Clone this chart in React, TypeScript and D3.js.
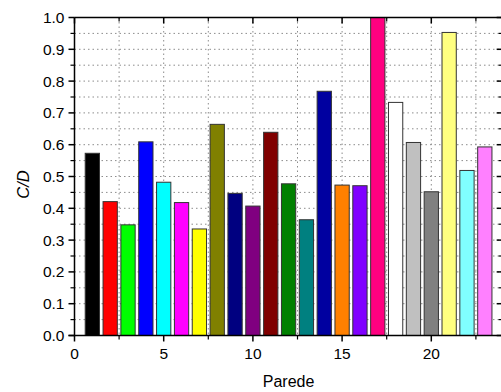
import React from "react";
import * as d3 from "d3";

const walls = [1, 2, 3, 4, 5, 6, 7, 8, 9, 10, 11, 12, 13, 14, 15, 16, 17, 18, 19, 20, 21, 22, 23];
const cdValues = [0.573, 0.421, 0.348, 0.609, 0.482, 0.418, 0.335, 0.664, 0.447, 0.407, 0.639, 0.477, 0.364, 0.768, 0.473, 0.471, 1.0, 0.733, 0.607, 0.452, 0.953, 0.519, 0.593];
const barColors = ["#000000", "#FF0000", "#00FF00", "#0000FF", "#00FFFF", "#FF00FF", "#FFFF00", "#808000", "#000080", "#800080", "#800000", "#008000", "#008080", "#0000A0", "#FF8000", "#8000FF", "#FF0080", "#FFFFFF", "#C0C0C0", "#808080", "#FFFF80", "#80FFFF", "#FF80FF"];
const xMajorTicks = [0, 5, 10, 15, 20];
const yMajorTicks = [0, 0.1, 0.2, 0.3, 0.4, 0.5, 0.6, 0.7, 0.8, 0.9, 1.0];

const W = 501;
const H = 392;
const FONT = "Arial, 'Liberation Sans', sans-serif";

export default function App() {
  const x = d3.scaleLinear().domain([0, 24]).range([74.5, 74.5 + 24 * 17.84]);
  const y = d3.scaleLinear().domain([0, 1]).range([335.5, 17.5]);
  const left = x(0);
  const right = x(24);
  const top = y(1);
  const bottom = y(0);
  const barW = x(0.8) - x(0);

  const xGrid = d3.range(1, 10).map((i) => i * 2.5);
  const yGrid = d3.range(1, 20).map((i) => i * 0.05);
  const xMinor = d3.range(0, 10).map((i) => i * 2.5 + 2.5).filter((v) => v % 5 !== 0);
  const yMinor = d3.range(0, 10).map((i) => i * 0.1 + 0.05);

  return (
    <svg width={W} height={H} style={{ position: "absolute", left: 0, top: 0, background: "#fff" }}>
      <rect x={0} y={0} width={W} height={H} fill="#fff" />
      <defs>
        <clipPath id="plot">
          <rect x={left} y={top} width={right - left} height={bottom - top} />
        </clipPath>
      </defs>
      {/* grid */}
      <g stroke="#8c8c8c" strokeWidth={1} strokeDasharray="1.5,3" fill="none">
        {xGrid.map((v) => (
          <line key={"gx" + v} x1={x(v)} x2={x(v)} y1={top} y2={bottom} />
        ))}
        {yGrid.map((v) => (
          <line key={"gy" + v} x1={left} x2={right} y1={y(v)} y2={y(v)} />
        ))}
      </g>
      {/* bars */}
      <g clipPath="url(#plot)">
        {walls.map((w, i) => (
          <rect
            key={w}
            x={x(w) - barW / 2}
            y={y(cdValues[i])}
            width={barW}
            height={y(0) - y(cdValues[i])}
            fill={barColors[i]}
            stroke="#333"
            strokeWidth={1}
          />
        ))}
      </g>
      {/* axes */}
      <g stroke="#000" fill="none">
        <line x1={left - 6} x2={right} y1={bottom} y2={bottom} strokeWidth={1.5} />
        <line x1={left} x2={right} y1={top} y2={top} strokeWidth={1.5} />
        <line x1={left} x2={left} y1={top} y2={bottom + 0.75} strokeWidth={1.5} />
        <line x1={right} x2={right} y1={top} y2={bottom} strokeWidth={1.5} />
        {xMajorTicks.map((v) => (
          <g key={"xt" + v}>
            <line x1={x(v)} x2={x(v)} y1={bottom} y2={bottom + 6} strokeWidth={1.5} />
            <line x1={x(v)} x2={x(v)} y1={top} y2={top + 6} strokeWidth={1.5} />
          </g>
        ))}
        {xMinor.map((v) => (
          <g key={"xm" + v}>
            <line x1={x(v)} x2={x(v)} y1={bottom} y2={bottom + 4} strokeWidth={1.2} />
            <line x1={x(v)} x2={x(v)} y1={top} y2={top + 4} strokeWidth={1.2} />
          </g>
        ))}
        {yMajorTicks.map((v) => (
          <g key={"yt" + v}>
            <line x1={left - 6} x2={left} y1={y(v)} y2={y(v)} strokeWidth={1.5} />
            <line x1={right - 6} x2={right} y1={y(v)} y2={y(v)} strokeWidth={1.5} />
          </g>
        ))}
        {yMinor.map((v) => (
          <g key={"ym" + v}>
            <line x1={left - 4} x2={left} y1={y(v)} y2={y(v)} strokeWidth={1.2} />
            <line x1={right - 4} x2={right} y1={y(v)} y2={y(v)} strokeWidth={1.2} />
          </g>
        ))}
      </g>
      {/* tick labels */}
      <g fontFamily={FONT} fontSize={15.5} fill="#000">
        {yMajorTicks.map((v) => (
          <text key={"yl" + v} x={left - 10} y={y(v)} textAnchor="end" dominantBaseline="central">
            {d3.format(".1f")(v)}
          </text>
        ))}
        {xMajorTicks.map((v) => (
          <text key={"xl" + v} x={x(v)} y={359} textAnchor="middle">
            {v}
          </text>
        ))}
      </g>
      <text x={(left + right) / 2} y={387} textAnchor="middle" fontFamily={FONT} fontSize={16}>
        Parede
      </text>
      <text
        transform={`translate(28.5,${(top + bottom) / 2 + 8}) rotate(-90)`}
        textAnchor="middle"
        fontFamily={FONT}
        fontSize={16.5}
        fontStyle="italic"
      >
        C/D
      </text>
    </svg>
  );
}
